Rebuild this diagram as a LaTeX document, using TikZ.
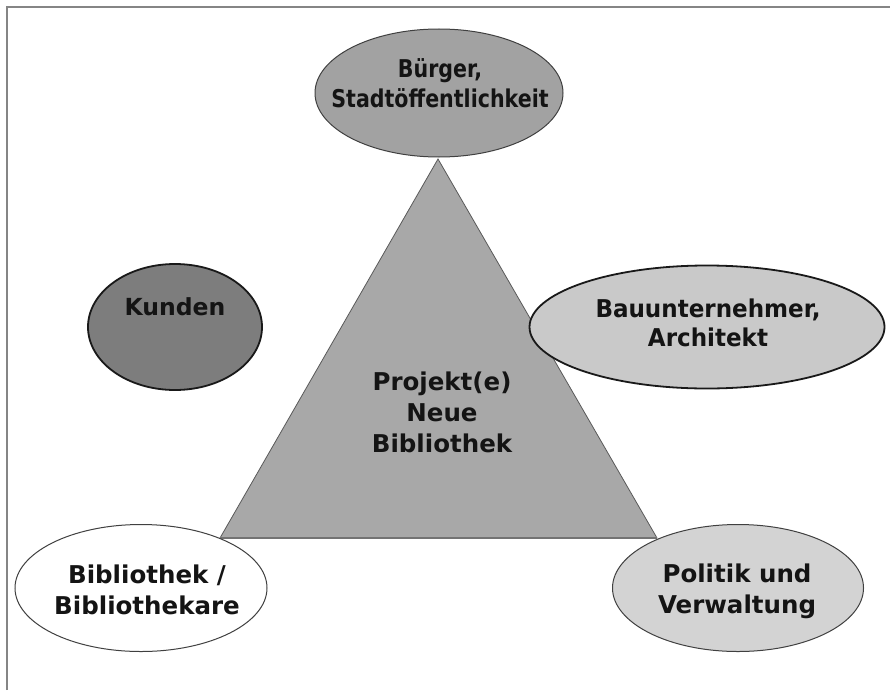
\documentclass[tikz,border=0pt]{standalone}
\usepackage{fontspec}
\usepackage{graphicx}
\setmainfont{DejaVu Sans}
\usetikzlibrary{shapes.geometric}
\definecolor{txt}{HTML}{141414}
\definecolor{frame}{HTML}{858585}
\definecolor{fillA}{HTML}{A2A2A2}
\definecolor{fillTri}{HTML}{A8A8A8}
\definecolor{fillK}{HTML}{7D7D7D}
\definecolor{fillB}{HTML}{C9C9C9}
\definecolor{fillP}{HTML}{D3D3D3}
\newcommand{\squeeze}[2]{\scalebox{#1}[1]{\begin{tabular}{@{}c@{}}#2\end{tabular}}}
\tikzset{
  oval/.style={ellipse, inner sep=0pt, line width=1pt, draw=black!75},
  lbl/.style={align=center, text=txt, inner sep=0pt,
    font=\bfseries\fontsize{24.5}{31}\selectfont},
}
\begin{document}
\begin{tikzpicture}[x=1pt,y=-1pt]
\useasboundingbox (0,0) rectangle (890,690);
\fill[white] (0,0) rectangle (890,690);
% frame
\draw[frame, line width=1.6pt] (7,690) -- (7,7) -- (890,7);
% triangle
\coordinate (apex) at (438,159);
\coordinate (bl) at (220,538);
\coordinate (br) at (657,538);
\draw[fill=fillTri, draw=black!65, line width=0.8pt] (apex) -- (br) -- (bl) -- cycle;
\draw[black!55, line width=2pt] (bl) -- (br);
\node[lbl] (proj) at (442,412) {Projekt(e)\\Neue\\Bibliothek};
% ellipses
\node[oval, fill=fillA, minimum width=248pt, minimum height=128pt] (buerger) at (439,93) {};
\node[lbl] (buergertxt) at (440,86) {\squeeze{0.84}{Bürger,\\[-1pt]Stadtöffentlichkeit}};
\node[oval, fill=fillK, draw=black!90, line width=1.8pt, minimum width=174pt, minimum height=126pt] (kunden) at (175,327) {};
\node[lbl, font=\bfseries\fontsize{23.5}{30}\selectfont] (kundentxt) at (175,307) {Kunden};
\node[oval, fill=fillB, draw=black!90, line width=1.8pt, minimum width=355pt, minimum height=123pt] (bau) at (707,327) {};
\node[lbl] (bautxt) at (708,326) {\squeeze{0.94}{Bauunternehmer,\\[-2pt]Architekt}};
\node[oval, fill=white, minimum width=252pt, minimum height=127pt] (bib) at (141,588) {};
\node[lbl] (bibtxt) at (147,590) {Bibliothek /\\Bibliothekare};
\node[oval, fill=fillP, minimum width=251pt, minimum height=127pt] (pol) at (738,588) {};
\node[lbl] (poltxt) at (737,591) {Politik und\\Verwaltung};
\end{tikzpicture}
\end{document}
